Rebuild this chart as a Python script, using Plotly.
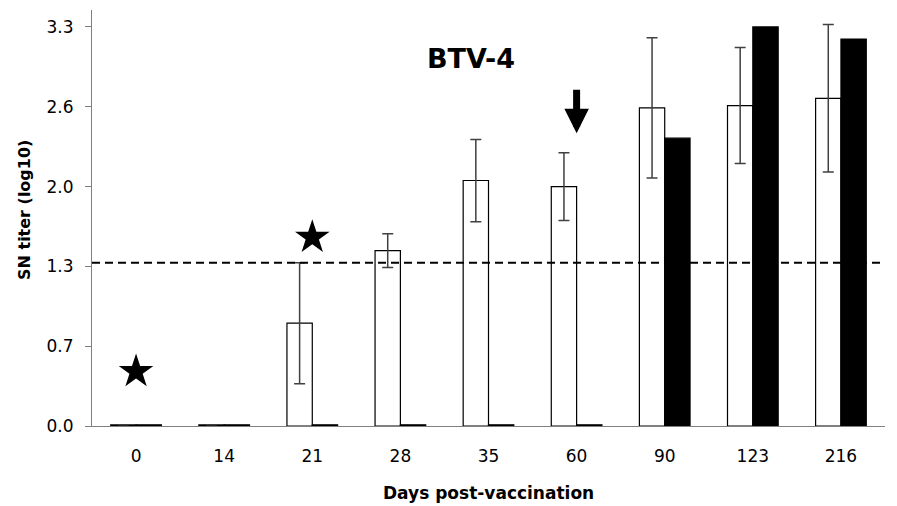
import plotly.graph_objects as go

days = ["0", "14", "21", "28", "35", "60", "90", "123", "216"]
white_vals = [0.01, 0.01, 0.85, 1.45, 2.03, 1.98, 2.63, 2.65, 2.71]
white_err = [0, 0, 0.50, 0.14, 0.34, 0.28, 0.58, 0.48, 0.61]
black_vals = [0.01, 0.01, 0.01, 0.01, 0.01, 0.01, 2.38, 3.30, 3.20]
tick_vals = [0, 0.66, 1.32, 1.98, 2.64, 3.3]
tick_text = ["0.0", "0.7", "1.3", "2.0", "2.6", "3.3"]
threshold = 1.35
star_days = ["0", "21"]
star_vals = [0.45, 1.56]
arrow_day = "60"
arrow_tip = 2.42

FONT = "DejaVu Sans"

fig = go.Figure()
fig.add_trace(go.Bar(
    x=days, y=white_vals,
    marker=dict(color="white", line=dict(color="black", width=1.2)),
    error_y=dict(type="data", array=white_err, visible=True,
                 color="#404040", thickness=1.5, width=5.5),
    showlegend=False,
))
fig.add_trace(go.Bar(
    x=days, y=black_vals,
    marker=dict(color="black", line=dict(color="black", width=1.2)),
    showlegend=False,
))
fig.add_trace(go.Scatter(
    x=star_days, y=star_vals, mode="markers",
    marker=dict(symbol="star", size=26, color="black"),
    showlegend=False, hoverinfo="skip",
))

fig.add_shape(type="line", xref="paper", x0=0, x1=1, yref="y",
              y0=threshold, y1=threshold,
              line=dict(color="black", width=2, dash="8px,5px"))

fig.add_annotation(x=days.index(arrow_day), y=arrow_tip, xref="x", yref="y",
                   ax=0, ay=-45, axref="pixel", ayref="pixel",
                   showarrow=True, arrowhead=2, arrowwidth=7, arrowsize=0.7,
                   arrowcolor="black", text="")

fig.add_annotation(text="<b>BTV-4</b>", xref="paper", yref="paper",
                   x=(471 - 91.7) / 793.3, y=(426 - 58) / 416,
                   xanchor="center", yanchor="middle", showarrow=False,
                   font=dict(family=FONT, size=27, color="black"))

fig.add_annotation(text="<b>Days post-vaccination</b>", xref="paper", yref="paper",
                   x=0.5, y=0, yshift=-67, xanchor="center", yanchor="middle",
                   showarrow=False, font=dict(family=FONT, size=17, color="black"))

fig.add_annotation(text="<b>SN titer (log10)</b>", xref="paper", yref="paper",
                   x=0, xshift=-68, y=0.5, yshift=8, xanchor="center", yanchor="middle",
                   textangle=-90, showarrow=False,
                   font=dict(family=FONT, size=16, color="black"))

fig.update_layout(
    width=889, height=498,
    margin=dict(l=84, r=12, t=2, b=80, autoexpand=False),
    paper_bgcolor="white", plot_bgcolor="white",
    barmode="group", bargap=0.425, bargroupgap=0,
    font=dict(family=FONT, size=17, color="black"),
)
fig.update_xaxes(type="category", range=[-0.5, len(days) - 0.5], autorange=False,
                 showline=True, linecolor="#808080", linewidth=1.2,
                 ticks="", showgrid=False, zeroline=False, tickangle=0,
                 tickfont=dict(family=FONT, size=17, color="black"),
                 ticklabelstandoff=14, automargin=False)
fig.update_yaxes(range=[0, 3.44], autorange=False, showline=True, linecolor="#808080", linewidth=1.2,
                 tickvals=tick_vals, ticktext=tick_text, ticks="outside",
                 ticklen=6, tickcolor="#808080", tickwidth=1.2,
                 showgrid=False, zeroline=False, automargin=False,
                 tickfont=dict(family=FONT, size=17, color="black"),
                 ticklabelstandoff=8)

fig.write_html("out.html")
